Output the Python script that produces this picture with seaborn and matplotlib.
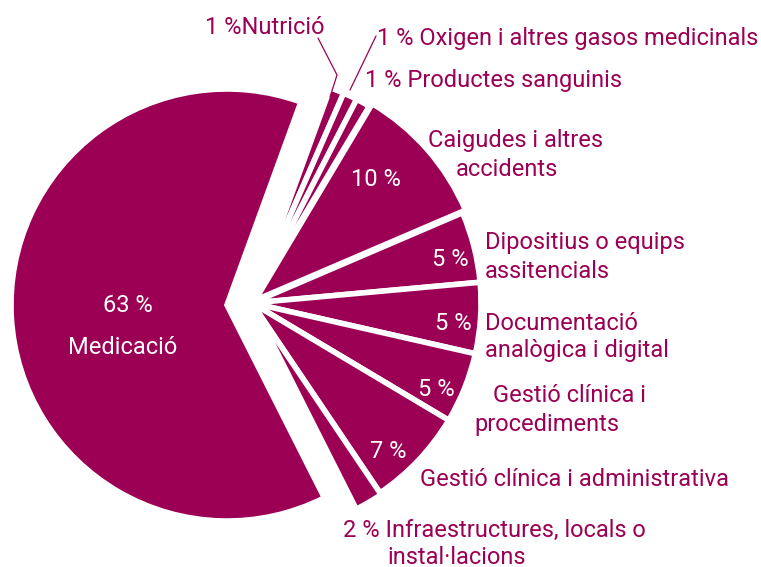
import matplotlib
matplotlib.use("Agg")
import matplotlib.pyplot as plt
import seaborn as sns

sns.set_theme(style="white")
plt.rcParams["font.family"] = ["Roboto", "DejaVu Sans"]

# slices in drawing order (clockwise from the top)
categories = ["Nutrició", "Oxigen i altres gasos medicinals", "Productes sanguinis",
              "Caigudes i altres accidents", "Dipositius o equips assitencials",
              "Documentació analògica i digital", "Gestió clínica i procediments",
              "Gestió clínica i administrativa", "Infraestructures, locals o instal·lacions",
              "Medicació"]
values = [1, 1, 1, 10, 5, 5, 5, 7, 2, 63]
# small offsets in pixels (the pie is drawn in pixel coordinates)
explode = [0, 0, 0, 4, 0, 0, 0, 0, 2, 0]

color = "#9b0054"
H = 567

fig = plt.figure(figsize=(7.61, 5.67), dpi=100)
ax = fig.add_axes([0, 0, 1, 1])
wedges, _ = ax.pie(values, explode=explode, startangle=70, counterclock=False,
                   center=(252, H - 303), radius=229, colors=[color] * len(values),
                   wedgeprops=dict(edgecolor="white", linewidth=4))
# the big slice sits apart: shifted left and slightly smaller
wedges[-1].set_center((227, H - 305))
wedges[-1].set_radius(216)
ax.set_xlim(0, 761)
ax.set_ylim(0, H)
ax.set_aspect("equal")
ax.axis("off")

pct = [f"{v} %" for v in values]
fs = 17
txt = dict(fontsize=fs, va="center", fontweight="normal")

# percentages inside the slices
inside = {3: (376, 180), 4: (450, 260), 5: (453, 323), 6: (436, 389), 7: (388, 452), 9: (128, 305)}
for i, (x, y) in inside.items():
    ax.text(x, H - y, pct[i], color="white", ha="center", **txt)
ax.text(123, H - 348, categories[9], color="white", ha="center", **txt)

# outside labels
ax.text(205, H - 27, pct[0] + categories[0], color=color, **txt)
ax.text(377, H - 38, pct[1] + " " + categories[1], color=color, **txt)
ax.text(365, H - 80, pct[2] + " " + categories[2], color=color, **txt)
ax.text(516, H - 140, "Caigudes i altres", color=color, ha="center", **txt)
ax.text(507, H - 170, "accidents", color=color, ha="center", **txt)
ax.text(485, H - 243, "Dipositius o equips", color=color, **txt)
ax.text(485, H - 272, "assitencials", color=color, **txt)
ax.text(485, H - 323, "Documentació", color=color, **txt)
ax.text(485, H - 351, "analògica i digital", color=color, **txt)
ax.text(493, H - 395, "Gestió clínica i", color=color, **txt)
ax.text(474, H - 424, "procediments", color=color, **txt)
ax.text(420, H - 480, categories[7], color=color, **txt)
ax.text(343, H - 530, pct[8] + " Infraestructures, locals o", color=color, **txt)
ax.text(387, H - 557, "instal·lacions", color=color, **txt)

# leader lines for the thin slices
ax.plot([318, 337, 330], [H - 38, H - 75, H - 97], color=color, lw=0.9)
ax.plot([376, 350], [H - 36, H - 90], color=color, lw=0.9)

fig.savefig("out.png", dpi=100)
